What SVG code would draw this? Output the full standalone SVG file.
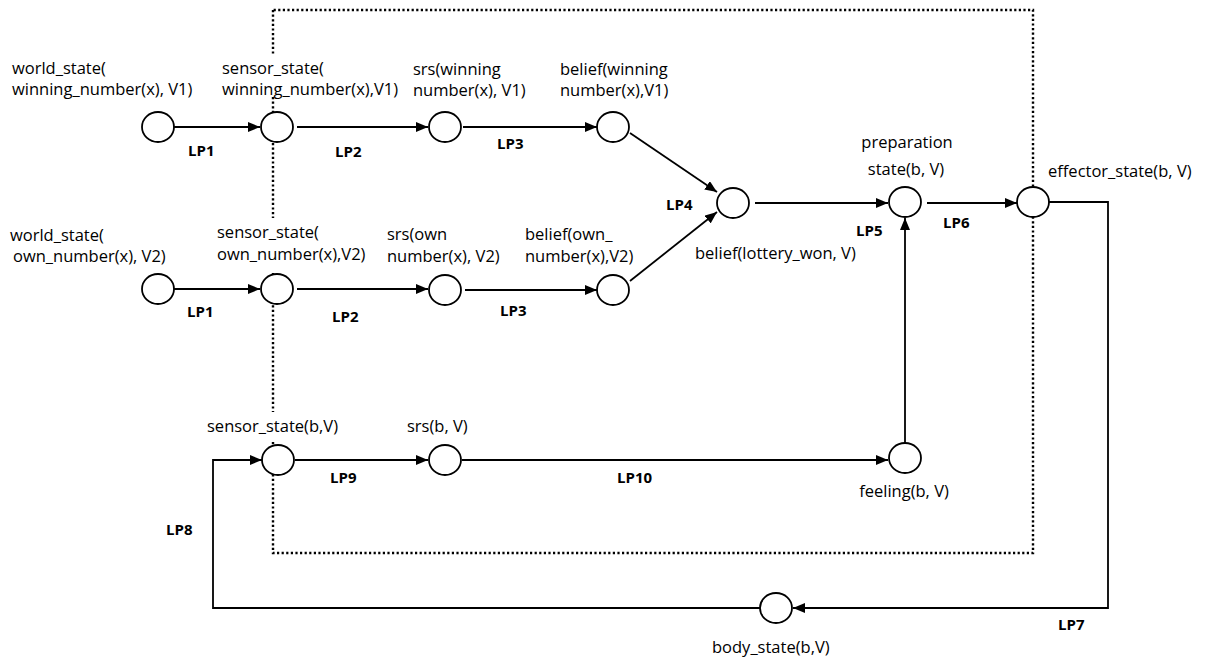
<svg xmlns="http://www.w3.org/2000/svg" width="1205" height="662" viewBox="0 0 1205 662">
<style>
  .lbl { font-family: "Open Sans", "Liberation Sans", sans-serif; font-size: 16.5px; fill: #000; }
  .lp { font-family: "Open Sans", "Liberation Sans", sans-serif; font-size: 15px; font-weight: bold; fill: #000; }
  .node { fill: #fff; stroke: #000; stroke-width: 1.8; }
  .edge { fill: none; stroke: #000; stroke-width: 1.8; }
  .dot { fill: none; stroke: #000; stroke-width: 2.4; stroke-dasharray: 2.2 2.4; }
</style>
<defs>
  <marker id="arr" viewBox="0 0 12 10" refX="12" refY="5" markerWidth="12" markerHeight="10" markerUnits="userSpaceOnUse" orient="auto">
    <path d="M0,0 L12,5 L0,10 Z" fill="#000"/>
  </marker>
</defs>
<rect width="1205" height="662" fill="#fff"/>

<g id="boundary">
  <path class="dot" d="M273,10 V56 M273,97 V218 M273,273 V412 M273,442 V553 H1033 V10 H273"/>
</g>

<g id="connectors">
  <line class="edge" x1="174" y1="127" x2="260" y2="127" marker-end="url(#arr)"/>
  <line class="edge" x1="297" y1="127" x2="428" y2="127" marker-end="url(#arr)"/>
  <line class="edge" x1="463" y1="127" x2="597" y2="127" marker-end="url(#arr)"/>
  <line class="edge" x1="630" y1="133" x2="717" y2="192" marker-end="url(#arr)"/>
  <line class="edge" x1="174" y1="289" x2="260" y2="289" marker-end="url(#arr)"/>
  <line class="edge" x1="297" y1="289" x2="428" y2="289" marker-end="url(#arr)"/>
  <line class="edge" x1="465" y1="290" x2="597" y2="290" marker-end="url(#arr)"/>
  <line class="edge" x1="630" y1="281" x2="717" y2="212" marker-end="url(#arr)"/>
  <line class="edge" x1="755" y1="203" x2="888" y2="203" marker-end="url(#arr)"/>
  <line class="edge" x1="927" y1="203" x2="1017" y2="203" marker-end="url(#arr)"/>
  <polyline class="edge" points="1049,202 1108,202 1108,608 793,608" marker-end="url(#arr)"/>
  <polyline class="edge" points="760,608 213,608 213,460 262,460" marker-end="url(#arr)"/>
  <line class="edge" x1="295" y1="460" x2="428" y2="460" marker-end="url(#arr)"/>
  <line class="edge" x1="462" y1="460" x2="888" y2="460" marker-end="url(#arr)"/>
  <line class="edge" x1="905" y1="443" x2="905" y2="218" marker-end="url(#arr)"/>
  <text class="lp" x="188" y="156">LP1</text>
  <text class="lp" x="335" y="157">LP2</text>
  <text class="lp" x="497" y="149">LP3</text>
  <text class="lp" x="666" y="210">LP4</text>
  <text class="lp" x="856" y="236">LP5</text>
  <text class="lp" x="943" y="228">LP6</text>
  <text class="lp" x="1058" y="630">LP7</text>
  <text class="lp" x="166" y="535">LP8</text>
  <text class="lp" x="330" y="483">LP9</text>
  <text class="lp" x="617" y="483">LP10</text>
  <text class="lp" x="187" y="317">LP1</text>
  <text class="lp" x="332" y="322">LP2</text>
  <text class="lp" x="500" y="316">LP3</text>
</g>

<g id="n-world1">
  <ellipse class="node" cx="158" cy="127" rx="16" ry="15"/>
  <text class="lbl" x="12" y="74">world_state(</text>
  <text class="lbl" x="12" y="95">winning_number(x), V1)</text>
</g>
<g id="n-sensor1">
  <ellipse class="node" cx="277" cy="127" rx="16" ry="15"/>
  <text class="lbl" x="222" y="74">sensor_state(</text>
  <text class="lbl" x="222" y="95">winning_number(x),V1)</text>
</g>
<g id="n-srs1">
  <ellipse class="node" cx="445" cy="127" rx="16" ry="15"/>
  <text class="lbl" x="413" y="75">srs(winning</text>
  <text class="lbl" x="413" y="96">number(x), V1)</text>
</g>
<g id="n-belief1">
  <ellipse class="node" cx="613" cy="127" rx="16" ry="15"/>
  <text class="lbl" x="560" y="75">belief(winning</text>
  <text class="lbl" x="560" y="96">number(x),V1)</text>
</g>
<g id="n-world2">
  <ellipse class="node" cx="158" cy="289" rx="16" ry="15"/>
  <text class="lbl" x="10" y="241">world_state(</text>
  <text class="lbl" x="13" y="262">own_number(x), V2)</text>
</g>
<g id="n-sensor2">
  <ellipse class="node" cx="277" cy="289" rx="16" ry="15"/>
  <text class="lbl" x="217" y="238">sensor_state(</text>
  <text class="lbl" x="217" y="260">own_number(x),V2)</text>
</g>
<g id="n-srs2">
  <ellipse class="node" cx="445" cy="290" rx="16" ry="15"/>
  <text class="lbl" x="387" y="240">srs(own</text>
  <text class="lbl" x="387" y="262">number(x), V2)</text>
</g>
<g id="n-belief2">
  <ellipse class="node" cx="613" cy="290" rx="16" ry="15"/>
  <text class="lbl" x="525" y="240">belief(own_</text>
  <text class="lbl" x="525" y="262">number(x),V2)</text>
</g>
<g id="n-lottery">
  <ellipse class="node" cx="733" cy="203" rx="16" ry="15"/>
  <text class="lbl" x="695" y="259">belief(lottery_won, V)</text>
</g>
<g id="n-preparation">
  <ellipse class="node" cx="905" cy="202" rx="16" ry="15"/>
  <text class="lbl" x="907" y="148" text-anchor="middle">preparation</text>
  <text class="lbl" x="906" y="175" text-anchor="middle">state(b, V)</text>
</g>
<g id="n-effector">
  <ellipse class="node" cx="1033" cy="202" rx="16" ry="15"/>
  <text class="lbl" x="1048" y="177">effector_state(b, V)</text>
</g>
<g id="n-sensor3">
  <ellipse class="node" cx="278" cy="460" rx="16" ry="15"/>
  <text class="lbl" x="207" y="432">sensor_state(b,V)</text>
</g>
<g id="n-srs3">
  <ellipse class="node" cx="445" cy="460" rx="16" ry="15"/>
  <text class="lbl" x="407" y="432">srs(b, V)</text>
</g>
<g id="n-feeling">
  <ellipse class="node" cx="905" cy="458" rx="16" ry="15"/>
  <text class="lbl" x="904" y="497" text-anchor="middle">feeling(b, V)</text>
</g>
<g id="n-body">
  <ellipse class="node" cx="776" cy="608" rx="16" ry="15"/>
  <text class="lbl" x="712" y="653">body_state(b,V)</text>
</g>
</svg>
